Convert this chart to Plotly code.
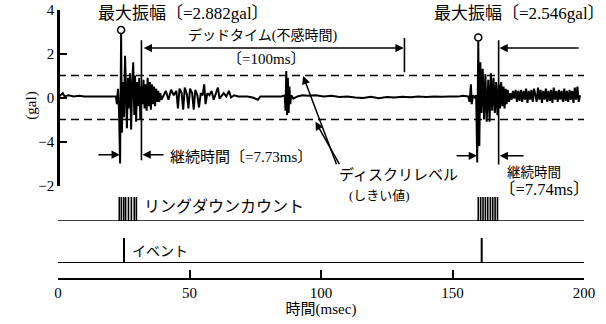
import plotly.graph_objects as go

# ---- acoustic-emission waveform (time in ms, amplitude in gal) ----
wave_t = [
    0, 1, 1.8, 2.5, 4, 6, 8, 10, 12, 14, 16, 18, 20, 21.8,
    22.0, 22.4, 22.8, 23.2, 23.6, 24.0, 24.3, 24.7, 25.1, 25.5, 25.9, 26.2, 26.6, 27.0,
    27.4, 27.8, 28.2, 28.6, 29.0, 29.3, 29.7, 30.1, 30.5, 30.9, 31.3, 31.7,
    32.1, 32.5, 32.9, 33.3, 33.7, 34.1, 34.5, 34.9, 35.3, 35.7, 36.1, 36.5, 36.9, 37.3,
    37.7, 38.1, 38.5, 38.9, 39.3,
    40, 41, 42, 43, 44, 45, 45.6, 46.2, 47, 47.6, 48.2, 49, 49.6, 50.2, 51, 51.6, 52.2,
    53, 53.6, 54.3, 55, 55.6, 56.1, 56.8, 57.6, 58.4, 59.2, 60, 60.8, 61.4, 62.2, 63, 64,
    65, 65.8, 67, 68.5,
    70, 72, 74, 76, 77, 79, 81, 83, 85, 86.2, 86.5, 86.8, 87.1, 87.4, 87.7, 88.0, 88.3,
    88.7, 89.5, 91, 93,
    95, 98, 101, 104, 107, 110, 113, 116, 119, 122, 125, 128, 131, 134, 137, 140, 143,
    146, 149, 152, 154, 155.5,
    156.0, 156.5, 157.0, 157.3, 157.8, 158.5, 159.0, 159.4, 159.8, 160.2, 160.6, 161.0,
    161.5, 162.0, 162.5, 163.0, 163.6, 164.1, 164.6, 165.1, 165.6, 166.1, 166.6, 167.1,
    167.6, 168.1, 168.5, 169.0, 169.4, 169.8, 170.2, 170.6, 171.0, 171.5, 172.0, 172.5,
    173.0, 173.5, 174.0, 174.5, 175.0,
    175.5, 176, 176.5, 177, 177.5, 178, 178.5, 179, 179.5, 180, 180.5, 181, 181.5, 182,
    182.5, 183, 183.5, 184, 184.5, 185, 185.5, 186, 186.5, 187, 187.5, 188, 188.5, 189,
    189.5, 190, 190.5, 191, 191.5, 192, 192.5, 193, 193.5, 194, 194.5, 195, 195.5, 196,
    196.5, 197, 197.5, 198, 198.5,
]
wave_v = [
    0.0, 0.1, 0.2, 0.05, 0.1, 0.05, 0.08, 0.05, 0.06, 0.04, 0.05, 0.04, 0.05, 0.03,
    0.05, -0.3, 0.4, -0.6, -3.0, 2.882, -1.6, 0.7, -0.9, 1.9, -0.6, -1.4, 0.9, -0.5,
    1.1, -1.45, 0.6, 1.6, -0.8, 1.0, -1.1, 0.7, -0.4, 0.9, -1.0, 0.5,
    -0.3, 0.8, -0.5, 0.6, -0.6, 0.9, -0.4, 0.7, -0.55, 0.6, -0.3, 0.5, -0.4, 0.4,
    -0.2, 0.3, -0.2, 0.2, -0.1,
    0.1, 0.3, -0.1, 0.35, 0.1, 0.3, -0.5, 0.4, 0.2, -0.55, 0.45, 0.15, -0.5, 0.4, 0.2, -0.55, 0.35,
    0.1, -0.45, 0.2, 0.1, 0.6, -0.3, 0.2, 0.1, 0.3, -0.1, 0.15, 0.45, -0.05, 0.1, 0.2, 0.05,
    0.3, 0.0, 0.1, 0.05,
    0.05, 0.05, 0.0, -0.1, 0.05, 0.05, 0.03, 0.05, 0.05, 0.1, -0.6, 1.2, -0.8, 0.9, -0.7, 0.5, -0.3,
    0.1, -0.05, 0.05, 0.1,
    0.08, 0.1, 0.05, 0.08, 0.02, 0.05, 0.0, -0.02, 0.03, -0.03, 0.02, 0.0, 0.03, 0.01, 0.04, 0.02, 0.05,
    0.03, 0.05, 0.04, 0.08, 0.05,
    0.05, -0.2, 0.6, -0.3, 0.1, 0.0, 0.1, -2.95, 2.546, -2.2, 1.6, -0.7,
    1.3, -1.0, 1.05, -1.1, 0.8, -1.1, 1.1, -0.6, 0.9, -0.7, 0.7, -0.8,
    0.6, -0.5, 0.7, -0.4, 0.5, -0.5, 0.4, -0.3, 0.35, -0.2, 0.2, -0.1,
    0.3, -0.05, 0.35, -0.2, 0.3,
    -0.15, 0.35, -0.2, 0.3, -0.1, 0.4, -0.25, 0.3, -0.1, 0.35, -0.2, 0.4, 0.1, -0.2,
    0.45, -0.1, 0.35, -0.25, 0.3, -0.1, 0.4, -0.2, 0.3, -0.15, 0.35, -0.25, 0.45, -0.1,
    0.3, -0.2, 0.35, -0.1, 0.3, -0.2, 0.4, -0.15, 0.3, -0.2, 0.35, -0.1, 0.3, -0.25,
    0.45, -0.1, 0.5, -0.2, 0.1,
]

# discriminator (threshold) level, gal
threshold = 1.0

# hit 1 and hit 2
peak_t = [24.0, 159.8]
peak_gal = [2.882, 2.546]
duration_ms = [7.73, 7.74]
dead_time_ms = 100

# ring-down count pulses and event pulses (ms)
ring_t = [23.3, 24.1, 25.0, 25.7, 26.8, 27.9, 29.0, 29.8,
          159.8, 160.7, 161.6, 162.5, 163.4, 164.4, 165.3, 166.2, 167.1]
event_t = [25.1, 161.1]

x_ticks = [0, 50, 100, 150, 200]
y_tickvals = [-4, -2, 0, 2, 4]
y_ticktext = ["\u22122", "\u22124", "0", "2", "4"]

FONT = "'Liberation Serif', 'Noto Sans CJK JP', serif"
INK = "black"

fig = go.Figure()

# waveform
fig.add_trace(go.Scatter(x=wave_t, y=wave_v, mode="lines",
                         line=dict(color=INK, width=2), xaxis="x", yaxis="y",
                         hoverinfo="skip"))

# threshold lines
for lvl in (threshold, -threshold):
    fig.add_trace(go.Scatter(x=[0, 200], y=[lvl, lvl], mode="lines",
                             line=dict(color=INK, width=1.5, dash="8px,5px"),
                             xaxis="x", yaxis="y", hoverinfo="skip"))

# ring-down count channel
rx, ry = [0, 200, None], [0, 0, None]
for t in ring_t:
    rx += [t, t, None]
    ry += [0, 1, None]
fig.add_trace(go.Scatter(x=rx, y=ry, mode="lines", line=dict(color=INK, width=1.6),
                         xaxis="x", yaxis="y2", hoverinfo="skip"))

# event channel
ex, ey = [0, 200, None], [0, 0, None]
for t in event_t:
    ex += [t, t, None]
    ey += [0, 1, None]
fig.add_trace(go.Scatter(x=ex, y=ey, mode="lines", line=dict(color=INK, width=2),
                         xaxis="x", yaxis="y3", hoverinfo="skip"))

shapes = []
# peak markers (open circles sitting on the peaks)
for t, g in zip(peak_t, peak_gal):
    shapes.append(dict(type="circle", xref="x", yref="y", xsizemode="pixel",
                       ysizemode="pixel", xanchor=t, yanchor=g,
                       x0=-3.5, x1=3.5, y0=0.5, y1=7.5,
                       line=dict(color=INK, width=1.5), fillcolor="white"))

dur1_end = peak_t[0] + duration_ms[0]
dur2_end = peak_t[1] + duration_ms[1]
dead_end = dur1_end + dead_time_ms


def vline(t, y0, y1):
    shapes.append(dict(type="line", xref="x", yref="y", x0=t, x1=t, y0=y0, y1=y1,
                       line=dict(color=INK, width=1.6)))


vline(dur1_end, 2.6, -2.85)
vline(dead_end, 2.7, 1.15)
vline(dur2_end, 2.6, -3.05)

annotations = []


def arrow(tip_x, tip_y, tail_x, tail_y, both=False):
    annotations.append(dict(x=tip_x, y=tip_y, ax=tail_x, ay=tail_y, xref="x", yref="y",
                            axref="x", ayref="y", text="", showarrow=True,
                            arrowhead=2, arrowsize=1.1, arrowwidth=1.5, arrowcolor=INK,
                            arrowside="end+start" if both else "end",
                            startarrowhead=2, startarrowsize=1.1))


# dead time
arrow(dead_end - 0.3, 2.25, dur1_end + 0.3, 2.25, both=True)
arrow(dur2_end + 0.3, 2.25, 198.5, 2.25)
# durations
arrow(peak_t[0] - 0.5, -2.6, 14.8, -2.6)
arrow(dur1_end + 0.4, -2.6, 40.7, -2.6)
arrow(peak_t[1] - 0.5, -2.65, 151.0, -2.65)
arrow(dur2_end + 0.4, -2.65, 177.6, -2.65)
# discriminator level leaders
arrow(93.2, 0.98, 106.1, -3.1)
arrow(97.9, -1.1, 107.3, -3.1)


def label(text, x, y, size=14, xanchor="center", yref="y"):
    annotations.append(dict(text=text, x=x, y=y, xref="x", yref=yref, showarrow=False,
                            xanchor=xanchor, yanchor="middle",
                            font=dict(family=FONT, size=size, color=INK)))


label("最大振幅〔=2.882gal〕", 47.8, 3.84, 17)
label("デッドタイム(不感時間)", 77.6, 2.8, 14)
label("〔=100ms〕", 79.1, 1.75, 15)
label("最大振幅〔=2.546gal〕", 175.6, 3.8, 17)
label("継続時間〔=7.73ms〕", 41.8, -2.7, 15, xanchor="left")
label("ディスクリレベル", 129.3, -3.52, 15)
label("(しきい値)", 122.4, 0.2975, 13, yref="paper")
label("継続時間", 170.0, -3.39, 13.5, xanchor="left")
label("〔=7.74ms〕", 166.8, 0.319, 16.5, xanchor="left", yref="paper")
label("リングダウンカウント", 31.9, 0.6, 16, xanchor="left", yref="y2")
label("イベント", 27.4, 0.45, 14, xanchor="left", yref="y3")

annotations.append(dict(text="(gal)", xref="paper", yref="paper", x=-0.072, y=0.62,
                        showarrow=False, textangle=-90,
                        font=dict(family=FONT, size=15, color=INK)))

H = 279.0
fig.update_layout(
    width=606, height=324,
    margin=dict(l=58, r=22, t=0, b=45, autoexpand=False),
    paper_bgcolor="white", plot_bgcolor="white",
    showlegend=False,
    font=dict(family=FONT, size=14, color=INK),
    xaxis=dict(range=[0, 200], tickvals=x_ticks, ticks="inside", ticklen=8, tickwidth=2,
               tickcolor=INK, showline=True, linewidth=2, linecolor=INK, showgrid=False,
               zeroline=False, anchor="free", position=0, automargin=False,
               tickfont=dict(family=FONT, size=15),
               title=dict(text="時間(msec)", standoff=2,
                          font=dict(family=FONT, size=15))),
    yaxis=dict(range=[-4, 4], domain=[(H - 185.5) / H, (H - 9.5) / H],
               tickvals=y_tickvals, ticktext=y_ticktext, ticks="inside", ticklen=7,
               tickwidth=2, tickcolor=INK, showline=True, linewidth=2.5, linecolor=INK,
               showgrid=False, zeroline=False, anchor="free", position=0, automargin=False,
               tickfont=dict(family=FONT, size=15)),
    yaxis2=dict(range=[0, 1], domain=[(H - 221) / H, (H - 197) / H], visible=False,
                anchor="x"),
    yaxis3=dict(range=[0, 1], domain=[(H - 263) / H, (H - 238) / H], visible=False,
                anchor="x"),
    shapes=shapes,
    annotations=annotations,
)

fig.write_html("out.html")
